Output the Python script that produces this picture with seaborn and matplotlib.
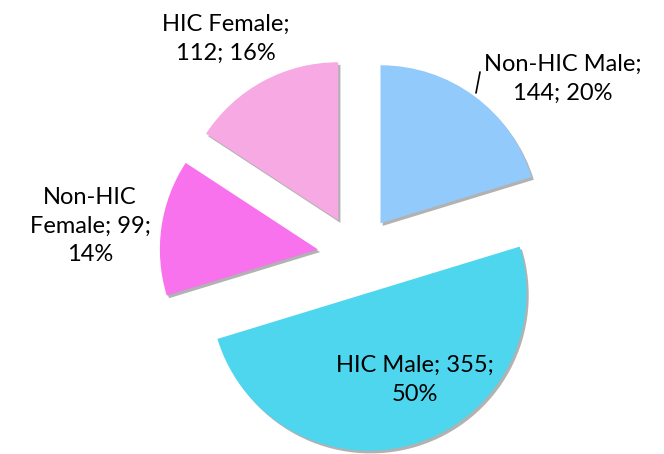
import matplotlib
matplotlib.use("Agg")
import matplotlib.pyplot as plt
import matplotlib.patches as mpatches
import seaborn as sns

categories = ["Non-HIC Male", "HIC Male", "Non-HIC Female", "HIC Female"]
values = [144, 355, 99, 112]
percents = ["20%", "50%", "14%", "16%"]
colors = ["#92CAFB", "#4DD6EE", "#F772EC", "#F6A9E3"]

sns.set_theme(style="white")
plt.rcParams["font.family"] = ["Lato", "DejaVu Sans"]

W, H = 664, 454
fig = plt.figure(figsize=(W / 100, H / 100), dpi=100)
ax = fig.add_axes([0, 0, 1, 1])

R = 158.0
cx, cy = 357.0, 454 - 255.0

wedges, _ = ax.pie(values, colors=colors, startangle=90, counterclock=False,
                   explode=[0.25] * 4, radius=1.0, center=(0, 0),
                   shadow={"ox": 0.01, "oy": -0.012, "shade": 0.3},
                   wedgeprops={"linewidth": 0})
for p in ax.patches:
    if isinstance(p, mpatches.Shadow):
        p.set_facecolor((0.4, 0.4, 0.4, 0.2))
        p.set_edgecolor("none")

ax.set_xlim(-cx / R, (W - cx) / R)
ax.set_ylim(-cy / R, (H - cy) / R)
ax.set_aspect("equal")
ax.axis("off")

def px(x, y):
    return ((x - cx) / R, ((H - y) - cy) / R)

label_pos = [(563, 79), (415, 380), (90, 226), (226, 39)]
label_text = [
    f"{categories[0]};\n{values[0]}; {percents[0]}",
    f"HIC Male; {values[1]};\n{percents[1]}",
    f"Non-HIC\nFemale; {values[2]};\n{percents[2]}",
    f"{categories[3]};\n{values[3]}; {percents[3]}",
]
for (x, y), t in zip(label_pos, label_text):
    ax.text(*px(x, y), t, ha="center", va="center", fontsize=17,
            linespacing=1.45, color="#000000")

ax.plot(*zip(px(476, 93), px(480, 72)), color="black", lw=1.2)

fig.savefig("out.png", dpi=100)
